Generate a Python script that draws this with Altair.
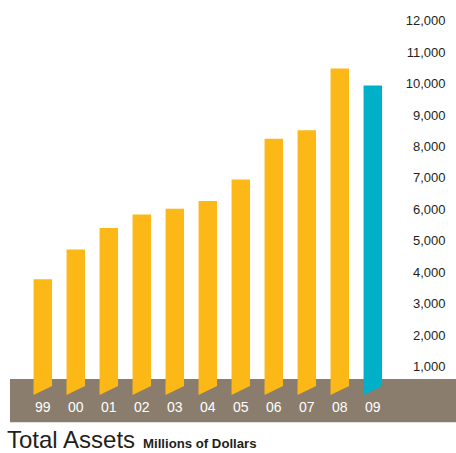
import altair as alt
import pandas as pd

years = ["99", "00", "01", "02", "03", "04", "05", "06", "07", "08", "09"]
assets = [3780, 4730, 5410, 5840, 6020, 6270, 6950, 8250, 8520, 10480, 9940]
period = ["past"] * 10 + ["current"]
tick_values = [1000, 2000, 3000, 4000, 5000, 6000, 7000, 8000, 9000, 10000, 11000, 12000]

df = pd.DataFrame({"year": years, "assets": assets, "period": period})

FONT = "Liberation Sans"
TXT = "#231f20"

x_scale = alt.Scale(domain=years, range=[26.3, 389.3], paddingInner=0.44, paddingOuter=0.22)
y_scale = alt.Scale(domain=[0, 12000], range=[398.2, 20.7], nice=False, zero=False)
color = alt.Color("period:N", scale=alt.Scale(domain=["past", "current"], range=["#FBB817", "#00AFC8"]), legend=None)

x_enc = alt.X("year:N", scale=x_scale, sort=years, title=None,
              axis=alt.Axis(orient="bottom", offset=-53, labelColor="white", labelFontSize=14,
                            labelFont=FONT, ticks=False, domain=False, labelPadding=0,
                            labelAngle=0, labelBaseline="top", zindex=1))
y_enc = alt.Y("assets:Q", scale=y_scale, title=None,
              axis=alt.Axis(orient="right", offset=-11, labelAlign="right", labelPadding=0,
                            ticks=False, domain=False, grid=False, values=tick_values, format=",.0f",
                            labelFontSize=13, labelFont=FONT, labelColor=TXT, labelBaseline="middle",
                            zindex=1))

band = alt.Chart(pd.DataFrame({"k": [0]})).mark_rect(color="#8A7D6E").encode(
    x=alt.value(10), x2=alt.value(456), y=alt.value(379), y2=alt.value(422.3))

bars = alt.Chart(df).mark_bar().encode(
    x=x_enc, y=y_enc, y2=alt.datum(388), color=color)

tris = alt.Chart(df).mark_point(
    shape="M -1 -0.06 L 1 -0.06 L 1 0 L -1 0.97 Z", filled=True, size=18.6 ** 2,
    opacity=1, strokeWidth=0).encode(
    x=alt.X("year:N", scale=x_scale, sort=years), y=alt.datum(388), color=color)

t1 = alt.Chart(pd.DataFrame({"t": ["Total Assets"]})).mark_text(
    align="left", baseline="alphabetic", fontSize=24, font=FONT, color=TXT).encode(
    x=alt.value(7), y=alt.value(448), text="t:N")
t2 = alt.Chart(pd.DataFrame({"t": ["Millions of Dollars"]})).mark_text(
    align="left", baseline="alphabetic", fontSize=13.2, fontWeight="bold", font=FONT, color=TXT).encode(
    x=alt.value(143), y=alt.value(448), text="t:N")

chart = alt.layer(band, bars, tris, t1, t2).properties(
    width=456, height=453, autosize=alt.AutoSizeParams(type="none"), padding=0
).configure_view(stroke=None)

chart.save("out.html", embed_options={"renderer": "svg", "actions": False})
